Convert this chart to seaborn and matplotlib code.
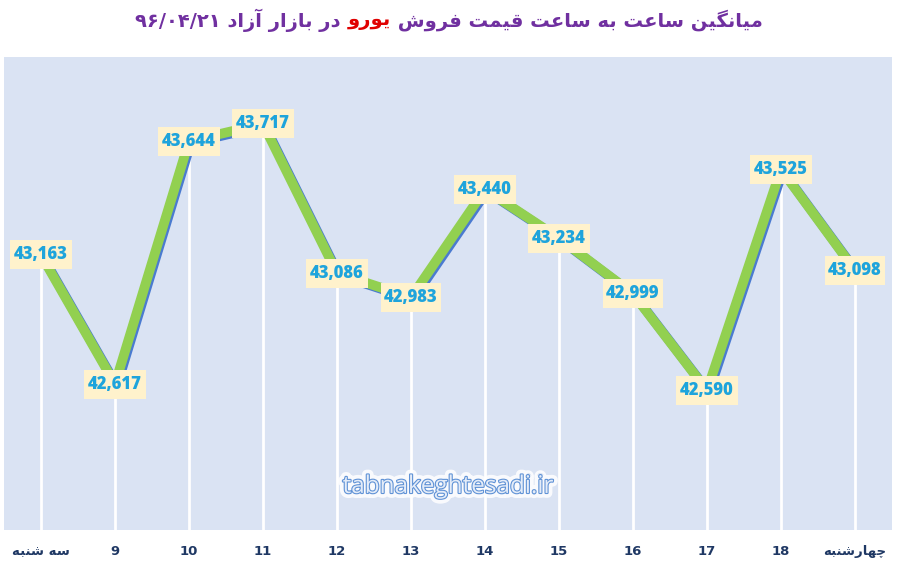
import numpy as np
import pandas as pd
import matplotlib
matplotlib.use('agg')
import matplotlib.pyplot as plt
import matplotlib.patheffects as pe
from matplotlib.path import Path
import seaborn as sns

# data
hours = ['سه شنبه', '9', '10', '11', '12', '13', '14', '15', '16', '17', '18', 'چهارشنبه']
prices = [43163, 42617, 43644, 43717, 43086, 42983, 43440, 43234, 42999, 42590, 43525, 43098]

title_left = 'در بازار آزاد'
title_red = 'یورو'
title_right = 'میانگین ساعت به ساعت قیمت فروش'
title_date = '۹۶/۰۴/۲۱'
watermark = 'tabnakeghtesadi.ir'

# minimal persian shaping (matplotlib has no arabic shaping)
FORMS = {
    'ا': ('\uFE8D', '\uFE8E', None, None),
    'آ': ('\uFE81', '\uFE82', None, None),
    'ب': ('\uFE8F', '\uFE90', '\uFE91', '\uFE92'),
    'پ': ('\uFB56', '\uFB57', '\uFB58', '\uFB59'),
    'ت': ('\uFE95', '\uFE96', '\uFE97', '\uFE98'),
    'ج': ('\uFE9D', '\uFE9E', '\uFE9F', '\uFEA0'),
    'چ': ('\uFB7A', '\uFB7B', '\uFB7C', '\uFB7D'),
    'د': ('\uFEA9', '\uFEAA', None, None),
    'ر': ('\uFEAD', '\uFEAE', None, None),
    'ز': ('\uFEAF', '\uFEB0', None, None),
    'س': ('\uFEB1', '\uFEB2', '\uFEB3', '\uFEB4'),
    'ش': ('\uFEB5', '\uFEB6', '\uFEB7', '\uFEB8'),
    'ع': ('\uFEC9', '\uFECA', '\uFECB', '\uFECC'),
    'ف': ('\uFED1', '\uFED2', '\uFED3', '\uFED4'),
    'ق': ('\uFED5', '\uFED6', '\uFED7', '\uFED8'),
    'گ': ('\uFB92', '\uFB93', '\uFB94', '\uFB95'),
    'ل': ('\uFEDD', '\uFEDE', '\uFEDF', '\uFEE0'),
    'م': ('\uFEE1', '\uFEE2', '\uFEE3', '\uFEE4'),
    'ن': ('\uFEE5', '\uFEE6', '\uFEE7', '\uFEE8'),
    'ه': ('\uFEE9', '\uFEEA', '\uFEEB', '\uFEEC'),
    'و': ('\uFEED', '\uFEEE', None, None),
    'ی': ('\uFBFC', '\uFBFD', '\uFBFE', '\uFBFF'),
}


def rtl(s):
    if not any(c in FORMS for c in s):
        return s
    out = []
    for i, c in enumerate(s):
        if c not in FORMS:
            out.append(c)
            continue
        prev = s[i - 1] if i > 0 else ''
        nxt = s[i + 1] if i < len(s) - 1 else ''
        join_prev = prev in FORMS and FORMS[prev][2] is not None
        join_next = nxt in FORMS and FORMS[c][2] is not None
        isol, fin, ini, med = FORMS[c]
        if join_prev and join_next:
            out.append(med)
        elif join_prev:
            out.append(fin)
        elif join_next:
            out.append(ini)
        else:
            out.append(isol)
    return ''.join(out)[::-1]


def label_box(x0, y0, width, height, mutation_size):
    # wider vertical padding than the stock square box
    px = 0.22 * mutation_size
    py = 0.36 * mutation_size
    return Path([(x0 - px, y0 - py), (x0 + width + px, y0 - py),
                 (x0 + width + px, y0 + height + py), (x0 - px, y0 + height + py),
                 (x0 - px, y0 - py)], closed=True)


df = pd.DataFrame({'pos': np.arange(len(prices)), 'price': prices})

fig = plt.figure(figsize=(8.97, 5.66), dpi=100)
ax = fig.add_axes([0.0045, 0.0636, 0.9899, 0.8357])
ax.set_facecolor('#dae3f3')

ax.vlines(df['pos'], 42000, df['price'], color='white', lw=2, zorder=1)
sns.lineplot(data=df, x='pos', y='price', ax=ax, color='#92d050', lw=7,
             zorder=2, solid_joinstyle='miter',
             path_effects=[pe.SimpleLineShadow(offset=(1.3, -1.3), shadow_color='#4a7bd0', alpha=1),
                           pe.Normal()])

for x, y in zip(df['pos'], df['price']):
    ax.text(x, y, f'{y:,}', ha='center', va='center', fontsize=12,
            fontweight='heavy', family='Open Sans', color='#1ea4dc', zorder=3,
            bbox=dict(boxstyle=label_box, fc='#fff2cc', ec='none'))

ax.set_xlim(-0.5, len(prices) - 0.5)
ax.set_ylim(42000, 44000)
ax.set_xticks(df['pos'])
ax.set_xticklabels([rtl(h) for h in hours], fontsize=9.5, fontweight='bold',
                   color='#1f3864', family='DejaVu Sans')
ax.tick_params(axis='x', length=0, pad=11)
ax.set_yticks([])
ax.set_xlabel('')
ax.set_ylabel('')
for s in ax.spines.values():
    s.set_visible(False)

ax.text(0.5, 0.091, watermark, transform=ax.transAxes, ha='center', va='center',
        fontsize=17.5, family='Open Sans', color='#e4ecf8', zorder=3,
        path_effects=[pe.Stroke(linewidth=7, foreground='white', alpha=0.85),
                      pe.Stroke(linewidth=1.6, foreground='#5f92d6'),
                      pe.Normal()])

# title in three coloured pieces, laid out left to right
pieces = [(title_date + ' ' + rtl(title_left) + ' ', '#7030a0'),
          (rtl(title_red), '#e00000'),
          (' ' + rtl(title_right), '#7030a0')]
renderer = fig.canvas.get_renderer()
texts = []
for txt, col in pieces:
    t = fig.text(0, 0, txt, fontsize=14, fontweight='bold', color=col,
                 family='DejaVu Sans', va='center', ha='left')
    texts.append(t)
widths = [t.get_window_extent(renderer).width for t in texts]
total = sum(widths)
x0 = 449 - total / 2
for t, w in zip(texts, widths):
    t.set_position((x0 / 897, 1 - 20 / 566))
    x0 += w

fig.savefig('out.png', dpi=100)
